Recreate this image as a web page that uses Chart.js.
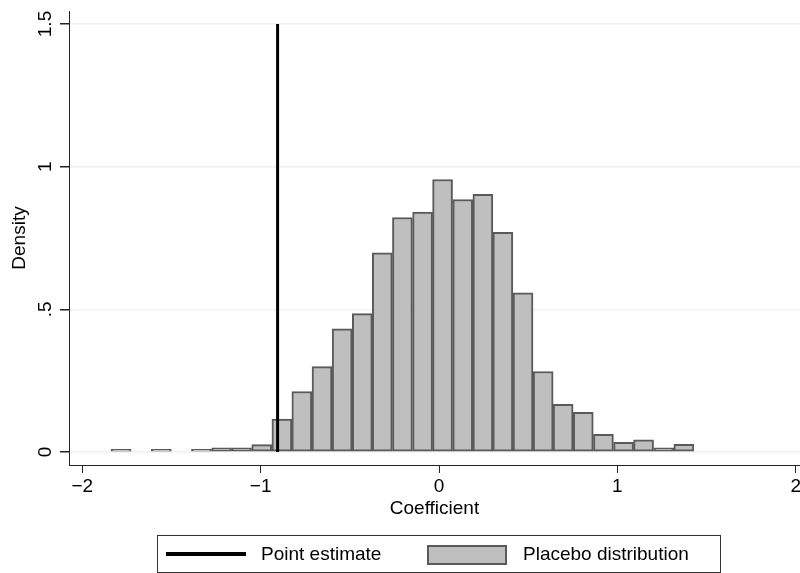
<!DOCTYPE html>
<html>
<head>
<meta charset="utf-8">
<script src="https://cdn.jsdelivr.net/npm/chart.js@4.4.1/dist/chart.umd.min.js"></script>
<style>
  html, body { margin: 0; padding: 0; background: #fff; }
  #wrap { width: 800px; height: 573px; overflow: hidden; }
</style>
</head>
<body>
<div id="wrap"><canvas id="histChart" width="800" height="573"></canvas></div>
<script>
// Placebo histogram: bin centres (coefficient) and density per bin
const binCenters = [
  -1.783, -1.670, -1.557, -1.445, -1.332, -1.219, -1.107, -0.994, -0.881, -0.769,
  -0.656, -0.543, -0.430, -0.318, -0.205, -0.092, 0.020, 0.133, 0.246, 0.358,
  0.471, 0.584, 0.696, 0.809, 0.922, 1.035, 1.147, 1.260, 1.373
];
const binDensity = [
  0.009, null, 0.009, null, 0.009, 0.015, 0.015, 0.026, 0.115, 0.212,
  0.299, 0.432, 0.485, 0.698, 0.822, 0.841, 0.955, 0.885, 0.903, 0.770,
  0.558, 0.282, 0.167, 0.139, 0.062, 0.034, 0.043, 0.015, 0.027
];

// Point estimate drawn as a vertical line
const pointEstimate = -0.905;
const pointEstimateSpan = [0, 1.5];

// Axes
const xTickValues = [-2, -1, 0, 1, 2];
const xTickLabels = ["\u22122", "\u22121", "0", "1", "2"];
const yTickValues = [0, 0.5, 1, 1.5];
const yTickLabels = ["0", ".5", "1", "1.5"];
const xRange = [-2.0746, 2.0241];
const yRange = [-0.0456, 1.5456];

const FONT = "'Liberation Sans', Arial, Helvetica, sans-serif";
Chart.defaults.font.family = FONT;
Chart.defaults.font.size = 19;
Chart.defaults.color = "#000";

// Stata-style extras: rotated y tick labels and boxed legend
const stataExtras = {
  id: "stataExtras",
  afterDraw(chart) {
    const ctx = chart.ctx;
    const yScale = chart.scales.y;
    ctx.save();
    ctx.fillStyle = "#000";
    ctx.font = "19px " + FONT;
    ctx.textAlign = "center";
    ctx.textBaseline = "alphabetic";
    yTickValues.forEach((v, i) => {
      const py = yScale.getPixelForValue(v);
      ctx.save();
      ctx.translate(51, py);
      ctx.rotate(-Math.PI / 2);
      ctx.fillText(yTickLabels[i], 0, 0);
      ctx.restore();
    });

    // legend
    const lineDs = chart.data.datasets[0];
    const barDs = chart.data.datasets[1];
    ctx.strokeStyle = "#333";
    ctx.lineWidth = 1;
    ctx.strokeRect(157.5, 535.5, 563, 37);

    ctx.strokeStyle = lineDs.borderColor;
    ctx.lineWidth = 4;
    ctx.beginPath();
    ctx.moveTo(166, 554);
    ctx.lineTo(246, 554);
    ctx.stroke();

    ctx.fillStyle = barDs.backgroundColor;
    ctx.fillRect(428, 546, 78, 18);
    ctx.strokeStyle = barDs.borderColor;
    ctx.lineWidth = 2;
    ctx.strokeRect(428, 546, 78, 18);

    ctx.fillStyle = "#000";
    ctx.textAlign = "left";
    ctx.textBaseline = "middle";
    ctx.fillText(lineDs.label, 261, 555);
    ctx.fillText(barDs.label, 523, 555);
    ctx.restore();
  }
};

new Chart(document.getElementById("histChart"), {
  type: "bar",
  data: {
    datasets: [
      {
        type: "line",
        label: "Point estimate",
        data: pointEstimateSpan.map((y) => ({ x: pointEstimate, y: y })),
        borderColor: "#000",
        borderWidth: 3,
        pointRadius: 0,
        fill: false,
        order: 0,
      },
      {
        type: "bar",
        label: "Placebo distribution",
        data: binCenters.map((x, i) => ({ x: x, y: binDensity[i] })),
        backgroundColor: "#bfbfbf",
        borderColor: "#5a5a5a",
        borderWidth: 2,
        borderSkipped: false,
        barPercentage: 1,
        categoryPercentage: 1,
        order: 1,
      },
    ],
  },
  options: {
    responsive: false,
    animation: false,
    layout: { padding: { left: 0, right: 0, top: 11, bottom: 48 } },
    plugins: {
      legend: { display: false },
      tooltip: { enabled: false },
    },
    scales: {
      x: {
        type: "linear",
        offset: false,
        min: xRange[0],
        max: xRange[1],
        afterBuildTicks: (scale) => {
          scale.ticks = xTickValues.map((v) => ({ value: v }));
        },
        afterFit: (scale) => {
          scale.paddingLeft = 0;
          scale.paddingRight = 0;
          scale.height = 60;
        },
        ticks: {
          padding: 2,
          autoSkip: false,
          maxRotation: 0,
          callback: (value, index) => xTickLabels[index],
        },
        grid: {
          drawOnChartArea: false,
          drawTicks: true,
          tickLength: 8,
          tickColor: "#222",
          offset: false,
        },
        border: { display: true, color: "#222", width: 1 },
        title: {
          display: true,
          text: "Coefficient",
          font: { size: 19 },
          padding: { top: 0, bottom: 4.6 },
        },
      },
      y: {
        type: "linear",
        min: yRange[0],
        max: yRange[1],
        afterBuildTicks: (scale) => {
          scale.ticks = yTickValues.map((v) => ({ value: v }));
        },
        afterFit: (scale) => {
          scale.width = 69;
          scale.paddingTop = 0;
          scale.paddingBottom = 0;
        },
        ticks: { display: false },
        grid: {
          color: "#eaf2f3",
          lineWidth: 1.5,
          drawTicks: true,
          tickLength: 9,
          tickColor: "#222",
        },
        border: { display: true, color: "#222", width: 1 },
        title: {
          display: true,
          text: "Density",
          font: { size: 19 },
          padding: { top: 8, bottom: 0 },
        },
      },
    },
  },
  plugins: [stataExtras],
});
</script>
</body>
</html>
